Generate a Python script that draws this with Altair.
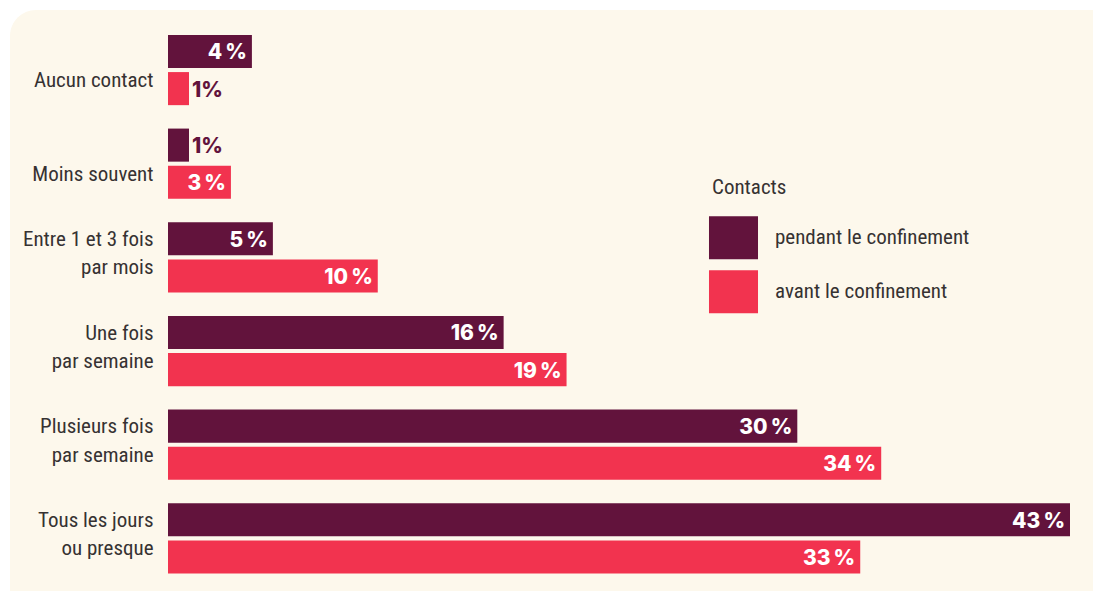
import altair as alt
import pandas as pd

categories = [
    "Aucun contact",
    "Moins souvent",
    "Entre 1 et 3 fois\npar mois",
    "Une fois\npar semaine",
    "Plusieurs fois\npar semaine",
    "Tous les jours\nou presque",
]
series = ["pendant le confinement", "avant le confinement"]
pendant = [4, 1, 5, 16, 30, 43]
avant = [1, 3, 10, 19, 34, 33]
colors = ["#62133c", "#f2334f"]

rows = []
for i, c in enumerate(categories):
    for s, vals in zip(series, [pendant, avant]):
        v = vals[i]
        rows.append({
            "cat": c,
            "serie": s,
            "value": v,
            "label": f"{v}%" if v < 2 else f"{v}\u202f%",
        })
df = pd.DataFrame(rows)

COND = "Noto Sans Condensed, Roboto Condensed, Open Sans Condensed, DejaVu Sans Condensed, sans-serif"
BOLD = "Inter, Lato, sans-serif"
TXT = "#363232"

y_enc = alt.Y(
    "cat:N",
    sort=categories,
    scale=alt.Scale(paddingInner=0.25, paddingOuter=0.125),
    axis=alt.Axis(
        title=None, domain=False, ticks=False, grid=False,
        labelPadding=15, labelFont=COND, labelFontSize=21, labelColor=TXT,
        labelLineHeight=28.5, labelAlign="right", labelBaseline="middle",
        labelOffset=-17.5, labelLimit=0, zindex=1,
        labelExpr="indexof(datum.value, '\\n') < 0 ? ['', datum.value] : split(datum.value, '\\n')",
    ),
)
x_enc = alt.X("value:Q", scale=alt.Scale(domain=[0, 43], nice=False, zero=True), axis=None)
yoff_enc = alt.YOffset("serie:N", sort=series, scale=alt.Scale(paddingInner=0.11, paddingOuter=0))

bg = alt.Chart(alt.Data(values=[{"a": 1}])).mark_rect(
    cornerRadius=26, color="#fdf8ec"
).encode(
    x=alt.value(-158), x2=alt.value(980), y=alt.value(-13.2), y2=alt.value(610)
)

bars = alt.Chart(df).mark_bar().encode(
    x=x_enc,
    y=y_enc,
    yOffset=yoff_enc,
    color=alt.Color(
        "serie:N",
        sort=series,
        scale=alt.Scale(domain=series, range=colors),
        legend=alt.Legend(
            title="Contacts", orient="none", legendX=544, legendY=154,
            symbolType="M-1.14,-1H1.14V1H-1.14Z", symbolSize=1849,
            symbolStrokeWidth=0, symbolOpacity=1,
            labelFont=COND, labelFontSize=21, labelColor=TXT, labelOffset=20,
            labelLimit=0, rowPadding=11,
            titleFont=COND, titleFontSize=21, titleFontWeight="normal",
            titleColor=TXT, titlePadding=18, padding=0,
        ),
    ),
)

inside = alt.Chart(df).transform_filter("datum.value >= 2").mark_text(
    align="right", baseline="middle", dx=-5, dy=2,
    font=BOLD, fontWeight=800, fontSize=21, color="white",
).encode(x=x_enc, y=y_enc, yOffset=yoff_enc, text="label:N")

outside = alt.Chart(df).transform_filter("datum.value < 2").mark_text(
    align="left", baseline="middle", dx=3, dy=2,
    font=BOLD, fontWeight=800, fontSize=21, color="#62133c",
).encode(x=x_enc, y=y_enc, yOffset=yoff_enc, text="label:N")

chart = alt.layer(bg, bars, inside, outside).properties(
    width=902,
    height=562,
    autosize=alt.AutoSizeParams(type="none"),
    padding={"left": 160, "top": 15.2, "right": 23, "bottom": 5.8},
    background="white",
).configure_view(stroke=None)

chart.save("out.html", embed_options={"renderer": "svg", "actions": False})
